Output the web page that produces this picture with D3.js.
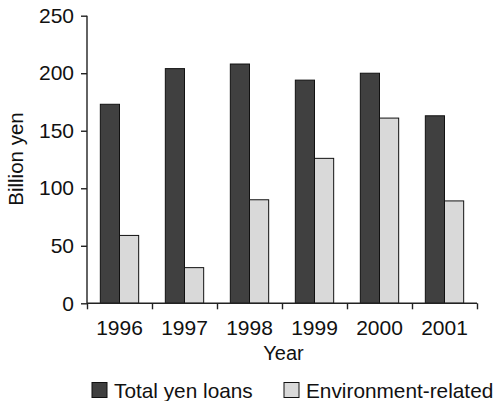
<!DOCTYPE html>
<html>
<head>
<meta charset="utf-8">
<script src="https://cdnjs.cloudflare.com/ajax/libs/d3/7.8.5/d3.min.js"></script>
<style>
  body { margin: 0; background: #fff; }
  text { font-family: "Liberation Sans", Arial, sans-serif; fill: #111; }
</style>
</head>
<body>
<div id="chart"></div>
<script>
// chart data
var years = ['1996', '1997', '1998', '1999', '2000', '2001'];
var seriesNames = ['Total yen loans', 'Environment-related'];
var totalLoans = [173, 204, 208, 194, 200, 163];
var envRelated = [59, 31, 90, 126, 161, 89];
var yTicks = [0, 50, 100, 150, 200, 250];

var colors = ['#404040', '#d9d9d9'];
var sizes = {width: 498, height: 401};
var margin = {left: 87, right: 21, top: 16, bottom: 98};

var svg = d3.select('#chart')
    .append('svg')
    .attr('width', sizes.width)
    .attr('height', sizes.height);

var x = d3.scaleBand()
    .domain(years)
    .range([margin.left, sizes.width - margin.right])
    .paddingInner(0.41)
    .paddingOuter(0.205);

var y = d3.scaleLinear()
    .domain([0, 250])
    .range([sizes.height - margin.bottom + 0.3, margin.top - 0.3]);

var inner = d3.scaleBand()
    .domain([0, 1])
    .range([0, x.bandwidth()]);

// bars
var rows = years.map(function(yr, i){
    return {year: yr, vals: [totalLoans[i], envRelated[i]]};
});

var groups = svg.selectAll('g.year')
    .data(rows)
    .enter()
    .append('g')
    .attr('class', 'year')
    .attr('transform', function(d){ return 'translate(' + x(d.year) + ',0)'; });

groups.selectAll('rect')
    .data(function(d){ return d.vals; })
    .enter()
    .append('rect')
    .attr('x', function(d, i){ return inner(i); })
    .attr('y', function(d){ return y(d); })
    .attr('width', inner.bandwidth())
    .attr('height', function(d){ return y(0) - y(d); })
    .style('fill', function(d, i){ return colors[i]; })
    .style('stroke', '#111')
    .style('stroke-width', 1);

// axes
var xLine = d3.scaleLinear().domain([0, years.length]).range([margin.left, sizes.width - margin.right]);
var yAxis = svg.append('g')
    .attr('transform', 'translate(' + margin.left + ',0)')
    .call(d3.axisLeft(y).tickValues(yTicks).tickSize(6).tickPadding(7));

var xAxis = svg.append('g')
    .attr('transform', 'translate(0,' + y(0) + ')')
    .call(d3.axisBottom(xLine).tickValues(d3.range(0, years.length + 1)).tickSize(6).tickFormat(''));

svg.selectAll('.domain, .tick line')
    .style('stroke', '#222')
    .style('stroke-width', 1.4);
yAxis.select('.domain').attr('d', 'M0,' + y(250) + 'V' + y(0));
xAxis.select('.domain').attr('d', 'M' + margin.left + ',0H' + (sizes.width - margin.right));

yAxis.selectAll('.tick text')
    .style('font-size', '21px')
    .style('font-family', '"Liberation Sans", Arial, sans-serif')
    .attr('fill', '#111');

svg.append('g')
    .selectAll('text')
    .data(years)
    .enter()
    .append('text')
    .attr('x', function(d){ return x(d) + x.bandwidth() / 2; })
    .attr('y', y(0) + 32)
    .attr('text-anchor', 'middle')
    .style('font-size', '21px')
    .text(function(d){ return d; });

// axis titles
svg.append('text')
    .attr('x', 283.5)
    .attr('y', 360)
    .attr('text-anchor', 'middle')
    .style('font-size', '20px')
    .text('Year');

svg.append('text')
    .attr('transform', 'translate(23,' + 159 + ') rotate(-90)')
    .attr('text-anchor', 'middle')
    .style('font-size', '20.5px')
    .text('Billion yen');

// legend
var legendX = [92, 284];
var legend = svg.selectAll('g.legend')
    .data(seriesNames)
    .enter()
    .append('g')
    .attr('class', 'legend')
    .attr('transform', function(d, i){ return 'translate(' + legendX[i] + ',382.5)'; });

legend.append('rect')
    .attr('width', 15)
    .attr('height', 15)
    .style('fill', function(d, i){ return colors[i]; })
    .style('stroke', '#111')
    .style('stroke-width', 1);

legend.append('text')
    .attr('x', 22)
    .attr('y', 15)
    .style('font-size', '20.8px')
    .text(function(d){ return d; });
</script>
</body>
</html>
